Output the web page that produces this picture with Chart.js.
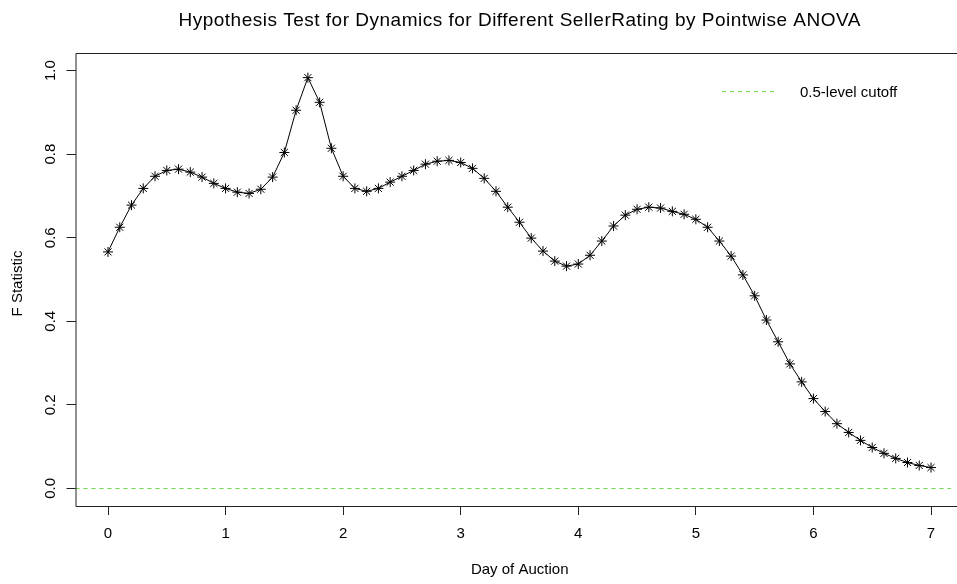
<!DOCTYPE html>
<html>
<head>
<meta charset="utf-8">
<script src="https://cdn.jsdelivr.net/npm/chart.js@4.4.1/dist/chart.umd.min.js"></script>
<style>
  html, body { margin: 0; padding: 0; background: #fff; }
  #wrap { width: 957px; height: 584px; }
</style>
</head>
<body>
<div id="wrap"><canvas id="fchart" width="957" height="584"></canvas></div>
<script>
// ===================== Dados =====================
const titulo = "Hypothesis Test for Dynamics for Different SellerRating by Pointwise ANOVA";
const tituloX = "Day of Auction";
const tituloY = "F Statistic";
const legendaCorte = "0.5-level cutoff";

// dias 0.0 ... 7.0, passo 0.1
const dias = [
    0.0, 0.1, 0.2, 0.3, 0.4, 0.5, 0.6, 0.7, 0.8, 0.9,
    1.0, 1.1, 1.2, 1.3, 1.4, 1.5, 1.6, 1.7, 1.8, 1.9,
    2.0, 2.1, 2.2, 2.3, 2.4, 2.5, 2.6, 2.7, 2.8, 2.9,
    3.0, 3.1, 3.2, 3.3, 3.4, 3.5, 3.6, 3.7, 3.8, 3.9,
    4.0, 4.1, 4.2, 4.3, 4.4, 4.5, 4.6, 4.7, 4.8, 4.9,
    5.0, 5.1, 5.2, 5.3, 5.4, 5.5, 5.6, 5.7, 5.8, 5.9,
    6.0, 6.1, 6.2, 6.3, 6.4, 6.5, 6.6, 6.7, 6.8, 6.9,
    7.0
];
const estatF = [
    0.566, 0.625, 0.678, 0.718, 0.747, 0.761, 0.764, 0.757, 0.745, 0.730,
    0.718, 0.709, 0.706, 0.716, 0.745, 0.804, 0.905, 0.983, 0.924, 0.814,
    0.747, 0.718, 0.711, 0.718, 0.733, 0.747, 0.761, 0.776, 0.783, 0.785,
    0.780, 0.766, 0.742, 0.711, 0.673, 0.637, 0.599, 0.568, 0.544, 0.532,
    0.537, 0.558, 0.592, 0.628, 0.654, 0.668, 0.673, 0.671, 0.663, 0.656,
    0.644, 0.625, 0.592, 0.556, 0.511, 0.461, 0.403, 0.351, 0.298, 0.255,
    0.215, 0.184, 0.155, 0.134, 0.115, 0.098, 0.084, 0.072, 0.062, 0.055,
    0.050
];
const corte = 0.0;
const ticksX = [0, 1, 2, 3, 4, 5, 6, 7];
const ticksY = [0.0, 0.2, 0.4, 0.6, 0.8, 1.0];

const FONTE = "'Liberation Sans', Arial, sans-serif";
const VERDE = "#6fd94a";

// ===================== Plugin: moldura, títulos, linha de corte, legenda =====================
const estiloR = {
    id: "estiloR",
    afterLayout(chart) {
        // ajusta a escala x para que 0 caia em 108px e 7 em 931px (como no original)
        const x = chart.scales.x;
        const a = chart.chartArea;
        const ppu = (931 - 108) / 7;
        x.min = -(108 - a.left) / ppu;
        x.max = 7 + (a.right - 931) / ppu;
        x.configure();
    },
    beforeDatasetsDraw(chart) {
        const { ctx, chartArea: a, scales: { y } } = chart;
        // abline(h = corte)
        const yc = Math.round(y.getPixelForValue(corte)) + 0.5;
        ctx.save();
        ctx.strokeStyle = VERDE;
        ctx.lineWidth = 1;
        ctx.setLineDash([4, 4]);
        ctx.beginPath();
        ctx.moveTo(a.left, yc);
        ctx.lineTo(a.right, yc);
        ctx.stroke();

        // amostra da legenda, mesmo traço
        ctx.beginPath();
        ctx.moveTo(722, 91.5);
        ctx.lineTo(775, 91.5);
        ctx.stroke();
        ctx.restore();
    },
    afterDraw(chart) {
        const { ctx, chartArea: a, scales: { x, y } } = chart;
        ctx.save();
        // moldura (lado direito fica fora do canvas)
        ctx.strokeStyle = "#222";
        ctx.lineWidth = 1;
        ctx.beginPath();
        ctx.moveTo(a.right + 10, a.top + 0.5);
        ctx.lineTo(a.left + 0.5, a.top + 0.5);
        ctx.lineTo(a.left + 0.5, a.bottom + 0.5);
        ctx.lineTo(a.right + 10, a.bottom + 0.5);
        ctx.stroke();

        // rótulos do eixo y na vertical
        ctx.fillStyle = "#000";
        ctx.font = "15px " + FONTE;
        ctx.textAlign = "center";
        ctx.textBaseline = "middle";
        ticksY.forEach(v => {
            ctx.save();
            ctx.translate(51, y.getPixelForValue(v));
            ctx.rotate(-Math.PI / 2);
            ctx.fillText(v.toFixed(1), 0, 0);
            ctx.restore();
        });

        const cx = (a.left + x.getPixelForValue(7.28)) / 2;
        // título principal
        ctx.font = "19px " + FONTE;
        ctx.letterSpacing = "0.5px";
        ctx.fillText(titulo, cx, 21);
        ctx.letterSpacing = "0px";
        // título do eixo x
        ctx.font = "15px " + FONTE;
        ctx.fillText(tituloX, cx, 570);
        // título do eixo y
        ctx.save();
        ctx.translate(18, (a.top + a.bottom) / 2 + 4);
        ctx.rotate(-Math.PI / 2);
        ctx.fillText(tituloY, 0, 0);
        ctx.restore();

        // texto da legenda
        ctx.textAlign = "left";
        ctx.font = "15px " + FONTE;
        ctx.fillText(legendaCorte, 800, 93);
        ctx.restore();
    }
};

// ===================== Gráfico =====================
const ctx = document.getElementById("fchart").getContext("2d");
new Chart(ctx, {
    type: "line",
    data: {
        datasets: [{
            label: tituloY,
            data: dias.map((d, i) => ({ x: d, y: estatF[i] })),
            borderColor: "#000",
            borderWidth: 1,
            pointStyle: "star",
            pointRadius: 5,
            pointBorderColor: "#000",
            pointBorderWidth: 1,
            pointBackgroundColor: "#000",
            tension: 0,
            fill: false
        }]
    },
    options: {
        responsive: false,
        animation: false,
        layout: { padding: { top: 53, right: 0, left: 0, bottom: 0 } },
        plugins: {
            legend: { display: false },
            tooltip: { enabled: false }
        },
        scales: {
            x: {
                type: "linear",
                min: -0.28,
                max: 7.22,
                afterBuildTicks: (s) => { s.ticks = ticksX.map(v => ({ value: v })); },
                afterFit: (s) => { s.height = 78; s.paddingLeft = 0; s.paddingRight = 0; },
                border: { display: false },
                grid: { drawOnChartArea: false, drawTicks: true, tickLength: 9, color: "#222" },
                ticks: { color: "#000", padding: 10, font: { family: FONTE, size: 15 }, maxRotation: 0 }
            },
            y: {
                type: "linear",
                min: -0.042,
                max: 1.042,
                afterBuildTicks: (s) => { s.ticks = ticksY.map(v => ({ value: v })); },
                afterFit: (s) => { s.width = 75.5; s.paddingTop = 0; s.paddingBottom = 0; },
                border: { display: false },
                grid: { drawOnChartArea: false, drawTicks: true, tickLength: 9, color: "#222" },
                ticks: { display: false }
            }
        }
    },
    plugins: [estiloR]
});
</script>
</body>
</html>
